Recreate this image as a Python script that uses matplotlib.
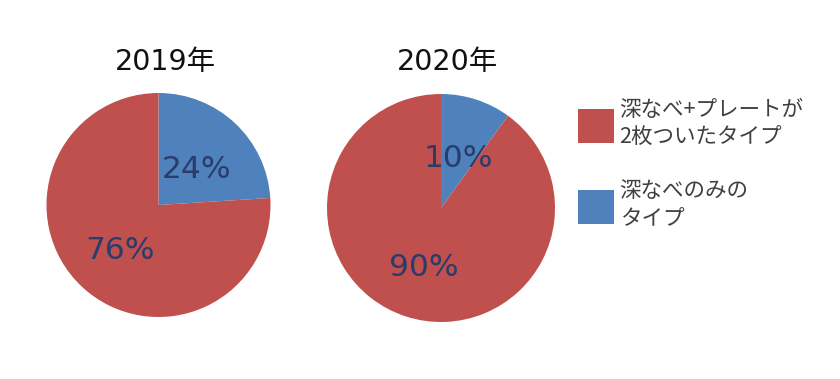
import matplotlib
matplotlib.use("Agg")
import matplotlib.pyplot as plt
from matplotlib.transforms import offset_copy

plt.rcParams['font.family'] = ['Noto Sans CJK JP', 'DejaVu Sans']

years = ['2019年', '2020年']
categories = ['深なべ+プレートが\n2枚ついたタイプ', '深なべのみの\nタイプ']
values_2019 = [76, 24]
values_2020 = [90, 10]
colors = ['#C0504D', '#4F81BD']

W, H = 840, 379
fig = plt.figure(figsize=(W / 100, H / 100), dpi=100)
fig.patch.set_facecolor('white')

# (center_x_px, center_y_px_from_top, radius_px)
geoms = [(158.5, 205, 112), (441, 208, 114)]
series = [values_2019, values_2020]

wedges_ref = None
for (cx, cy, r), vals, yr in zip(geoms, series, years):
    ax = fig.add_axes([(cx - r) / W, (H - cy - r) / H, 2 * r / W, 2 * r / H])
    # blue first going clockwise from 12 o'clock, then red
    wedges, texts, autotexts = ax.pie(
        vals[::-1], colors=colors[::-1], startangle=90, counterclock=False,
        autopct=lambda p: f'{p:.0f}%', pctdistance=0.5,
        textprops=dict(fontsize=22.5, color='#2A3B6C',
                       family=['DejaVu Sans', 'Noto Sans CJK JP']))
    for t in autotexts:
        t.set_transform(offset_copy(t.get_transform(), fig=fig, y=-5, units='dots'))
    ax.set_xlim(-1, 1)
    ax.set_ylim(-1, 1)
    if wedges_ref is None:
        wedges_ref = wedges[::-1]
    fig.text(cx / W + 0.008, 1 - 62 / H, yr, ha='center', va='center',
             fontsize=20.5, color='#111111',
             family=['DejaVu Sans', 'Noto Sans CJK JP'])

item_centers = [124, 205]
for handle, label, yc in zip(wedges_ref, categories, item_centers):
    leg = fig.legend([handle], [label], loc='center left',
                     bbox_to_anchor=(578 / W, 1 - yc / H), frameon=False,
                     fontsize=15.5, handlelength=1.65, handleheight=2.06,
                     handletextpad=0.28, borderpad=0,
                     borderaxespad=0, labelcolor='#404040')
    for t in leg.get_texts():
        t.set_linespacing(1.39)

fig.savefig('out.png', dpi=100, facecolor='white')
